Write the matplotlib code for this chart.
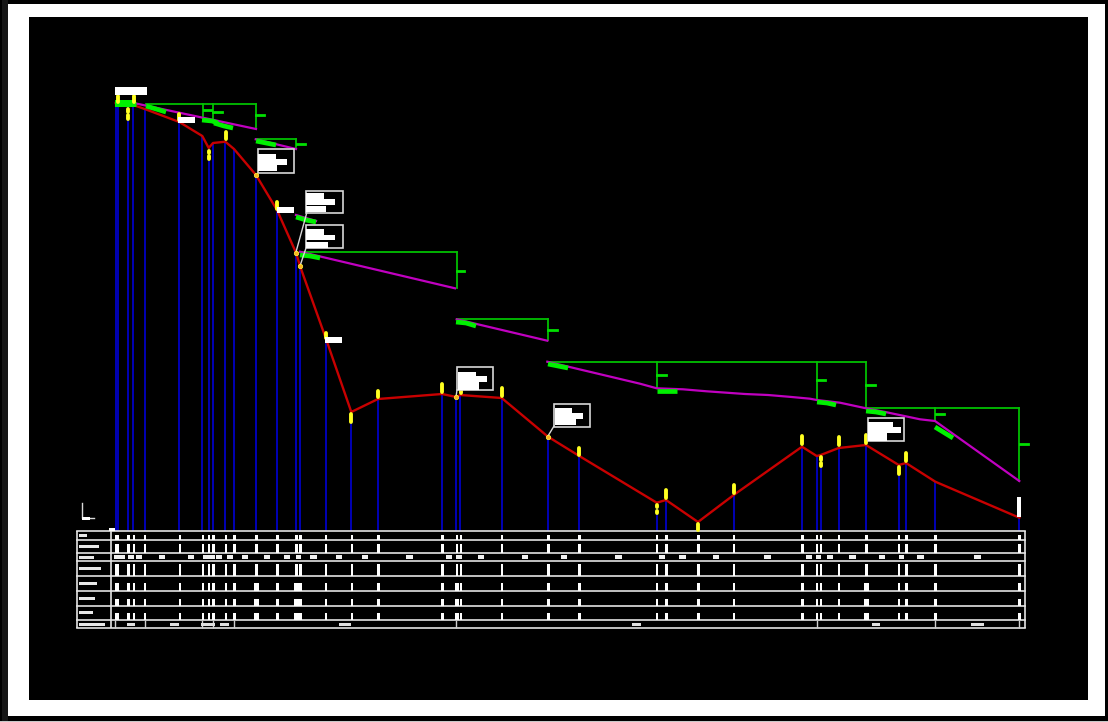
import matplotlib
matplotlib.use('Agg')
import matplotlib.pyplot as plt
from matplotlib.patches import Rectangle

stations = [115.7, 117.7, 128, 133.3, 144.7, 179.3, 202.3, 208.7, 213, 225.3, 234, 256, 277,
            296, 300, 325.7, 351.3, 378, 442, 456.3, 460.3, 501.7, 548, 579.3, 656.7, 666,
            698, 733.7, 802, 816.7, 820.7, 838.7, 866, 898.7, 906, 935.3, 1019.3]
ground = [103, 103, 104, 105, 109, 122, 136, 148, 143, 141.7, 149, 175, 210,
          252.7, 266, 338, 412, 399, 394, 397, 395, 398, 436.7, 456, 502.7, 500,
          522, 495, 446.7, 456, 455, 448, 445, 465, 463, 481.7, 517.7]

design_lines = [
    ([136, 256], [103.5, 129]),
    ([255.7, 296], [139.3, 149]),
    ([296, 316], [215, 221]),
    ([300, 455], [251.7, 288.3]),
    ([456.7, 547.3], [319.3, 340.7]),
    ([547.3, 640, 656.7, 683, 706.7, 745, 768, 791.7, 810, 816.7, 840, 866, 886.7, 920, 935, 950, 1019.3],
     [361.7, 383.7, 388.3, 389.3, 391.3, 394, 395, 397, 398.7, 400, 402.7, 408.3, 412.3, 419.3, 421, 431.7, 481]),
]
bracket_tops = [(146, 256, 103.7), (256, 296, 139), (300, 456.5, 251.7), (456.7, 548, 319.3),
                (548, 866, 361.7), (866, 1019.3, 408)]
bracket_drops = [(202.5, 103.7, 118), (213, 103.7, 121), (256, 103.7, 129), (296, 139, 149),
                 (456.5, 251.7, 288), (548, 319.3, 340), (656.7, 361.7, 388), (816.7, 361.7, 400),
                 (866, 361.7, 408), (935, 408, 421), (1019.3, 408, 481)]
green_ticks = [(204, 211, 110), (213, 222, 111.5), (256, 264, 115), (297, 305, 144), (457, 464, 271),
               (548, 557, 330), (657, 666, 375), (817, 825, 380), (866, 875, 385), (936, 944, 414),
               (1020, 1028, 444)]
green_marks = [([115, 136], [103.5, 103.5]), ([146, 156, 166], [106, 109, 112]), ([202, 212, 218], [120, 121, 123]),
               ([214, 224, 233], [123, 126, 128]), ([256, 266, 276], [141, 143, 145]),
               ([296, 306, 316], [217, 220, 222]), ([300, 310, 320], [255, 256, 258]),
               ([456, 466, 476], [322, 323, 326]), ([548, 558, 568], [364, 366, 368]),
               ([657, 677], [390.5, 390.5]), ([817, 827, 836], [402, 403, 405]),
               ([866, 876, 886], [411, 412, 414]), ([935, 953], [427, 438])]

flags = [(117.5, 95, 103), (133.5, 95, 103), (128, 108, 113), (128, 114, 120), (179.3, 113, 121),
         (209, 150, 154), (209, 155, 160), (225.5, 131, 140), (277, 201, 210), (325.7, 332, 339),
         (351.3, 413, 423), (378, 390, 398), (442, 383, 393), (460.5, 388, 394), (501.7, 387, 397),
         (579.3, 447, 456), (656.7, 504, 508), (656.7, 510, 514), (666, 489, 499), (698, 523, 531),
         (733.7, 484, 494), (802, 435, 445), (820.7, 456, 461), (820.7, 462, 467), (838.7, 436, 446),
         (866, 434, 444), (898.7, 466, 475), (906, 452, 462)]
dots = [(256, 175), (296, 252.7), (300, 266), (456, 397), (548, 436.7)]

# left, top, width, height
callouts = [(257.7, 149.3, 36.6, 24), (306, 190.7, 36.7, 22), (306, 224.7, 36.7, 23.3),
            (457.3, 366.7, 36, 23.3), (554, 404, 36, 22.7), (867.7, 417.7, 36.3, 23.3)]
callout_rows = [[(258.3, 275.7, 153.7, 159.3), (258.3, 287, 159.3, 165), (258.3, 277.3, 165, 170.7)],
                [(306, 324, 193.3, 199), (306, 335.3, 199, 204.7), (306, 326, 206, 211.7)],
                [(306, 324, 229, 235), (306, 335, 235, 240), (306, 328, 242, 247.5)],
                [(458, 476, 371.7, 376), (458, 487, 376, 382.3), (458, 479, 382.3, 390)],
                [(555, 571.7, 407.7, 413.3), (555, 583, 413.3, 419.3), (555, 575.7, 419.3, 425)],
                [(868, 893, 422, 427), (868, 900.7, 427, 432.7), (868, 887, 432.7, 440.7)]]
leaders = [([307, 296], [212, 252]), ([306, 300], [248, 266]), ([457, 456], [390, 397]), ([554, 548], [426, 436])]
labels = [(115, 146.7, 87, 94.7), (178, 194.7, 117, 122.7), (277, 293.5, 207, 213), (325, 342, 337, 343),
          (1017, 1021, 497, 517), (109, 115, 527.5, 530.5), (82, 90, 517, 520)]

table_rows = [530.9, 539.5, 553.3, 560.7, 576.3, 590.5, 605.8, 620, 628.3]
row_labels = [(79, 87), (79, 99), (79, 94), (79, 101), (79, 97), (79, 95), (79, 93), (79, 105)]
bar_heights = [5, 9, None, 12, 8, 7, 7]
wide_bars = {4: [256, 296, 456.3, 866], 5: [256, 296, 456.3, 866], 6: [256, 296, 456.3, 866]}
chainage_blobs = [(114, 125), (127.7, 134), (136, 142.3), (159.3, 165.3), (188, 194), (203.3, 215), (216, 222),
                  (227.3, 232.7), (242, 248.3), (264, 270), (284, 290), (295.7, 300.7), (310, 316.7),
                  (335.7, 341.7), (362, 368), (406, 413.3), (445.7, 452.3), (456, 461.7), (478.3, 484.3),
                  (522.3, 528), (561, 567.3), (615, 622), (658.7, 665), (679, 686), (713.3, 719.3),
                  (763.7, 771), (805.7, 812), (816.3, 821.3), (826.7, 832.7), (849.3, 855.7), (879, 885.3),
                  (899, 904), (917, 924), (973.7, 981)]
slope_blobs = [(126.7, 135), (170, 179), (201, 215), (220, 228.7), (339.3, 351), (632.3, 641), (872, 880), (970.7, 984.3)]
slope_breaks = [115.3, 145, 202.3, 213.3, 234, 456.3, 816.7, 935, 1019.3]

fig = plt.figure(figsize=(11.08, 7.22), dpi=100, facecolor='black')
ax = fig.add_axes([0, 0, 1, 1])
ax.set_xlim(0, 1108)
ax.set_ylim(722, 0)
ax.axis('off')


def block(x0, x1, y0, y1, color='white', z=6):
    ax.add_patch(Rectangle((x0, y0), x1 - x0, y1 - y0, facecolor=color, edgecolor='none', zorder=z))


# sheet border
block(7.5, 1104.7, 3.5, 716, z=0)
block(29, 1088, 16.7, 700, color='black', z=0)
block(2, 7.5, 0, 722, color='#161616', z=0)
block(0, 1108, 720.5, 722, color='#c8c8c8', z=0)

# profile
ax.vlines(stations, ground, table_rows[0], colors='#0000c4', lw=1.3, zorder=2)
ax.plot(stations, ground, color='#c80000', lw=1.7, zorder=4)
for xs, ys in design_lines:
    ax.plot(xs, ys, color='#c000c0', lw=1.6, zorder=3)

for x0, x1, y in bracket_tops:
    ax.plot([x0, x1], [y, y], color='#00c000', lw=1.3, zorder=2)
for x, y0, y1 in bracket_drops:
    ax.plot([x, x], [y0, y1], color='#00c000', lw=1.3, zorder=2)
for x0, x1, y in green_ticks:
    ax.plot([x0, x1], [y, y], color='#00e000', lw=2, zorder=3)
for xs, ys in green_marks:
    ax.plot(xs, ys, color='#00f000', lw=3.4, solid_capstyle='butt', zorder=4)
block(115, 136, 100, 106.5, color='#00f000', z=4)

for x, y0, y1 in flags:
    ax.plot([x, x], [y0 + 1, y1 - 1], color='#ffff20', lw=2.8, solid_capstyle='round', zorder=5)
for x, y in dots:
    ax.plot([x], [y], 'o', color='#ffb020', ms=3.2, mec='#ffff40', mew=0.5, zorder=7)

# callouts
for x, y, w, h in callouts:
    ax.add_patch(Rectangle((x, y), w, h, facecolor='black', edgecolor='#d8d8d8', lw=1.2, zorder=5))
for rows in callout_rows:
    for x0, x1, y0, y1 in rows:
        block(x0, x1, y0, y1)
for xs, ys in leaders:
    ax.plot(xs, ys, color='#d8d8d8', lw=1, zorder=5)
for x0, x1, y0, y1 in labels:
    block(x0, x1, y0, y1)
ax.plot([81.5, 81.5, 94], [503, 518, 518], color='#d8d8d8', lw=1, zorder=5)

# table under the profile
for y in table_rows:
    ax.plot([76.5, 1024.5], [y, y], color='#e4e4e4', lw=1.2, zorder=3)
ax.vlines([76.5, 110.5, 1024.5], table_rows[0], table_rows[-1], colors='#e4e4e4', lw=1.2, zorder=3)
for i, (x0, x1) in enumerate(row_labels):
    mid = (table_rows[i] + table_rows[i + 1]) / 2
    block(x0, x1, mid - 1.5, mid + 1.5, color='#e8e8e8')
for i, h in enumerate(bar_heights):
    if h is None:
        continue
    bottom = table_rows[i + 1]
    for x in stations:
        w = 4.4 if x in wide_bars.get(i, []) else 2.4
        block(x + 0.4 - w / 2, x + 0.4 + w / 2, bottom - h, bottom)
mid = (table_rows[2] + table_rows[3]) / 2
for x0, x1 in chainage_blobs:
    block(x0, x1, mid - 1.6, mid + 1.6, color='#f0f0f0')
mid = (table_rows[7] + table_rows[8]) / 2
for x0, x1 in slope_blobs:
    block(x0, x1, mid - 1.5, mid + 1.5, color='#e0e0e0')
ax.vlines(slope_breaks, table_rows[7], table_rows[8], colors='#d0d0d0', lw=1, zorder=3)

fig.savefig('out.png', dpi=100, facecolor='black')
